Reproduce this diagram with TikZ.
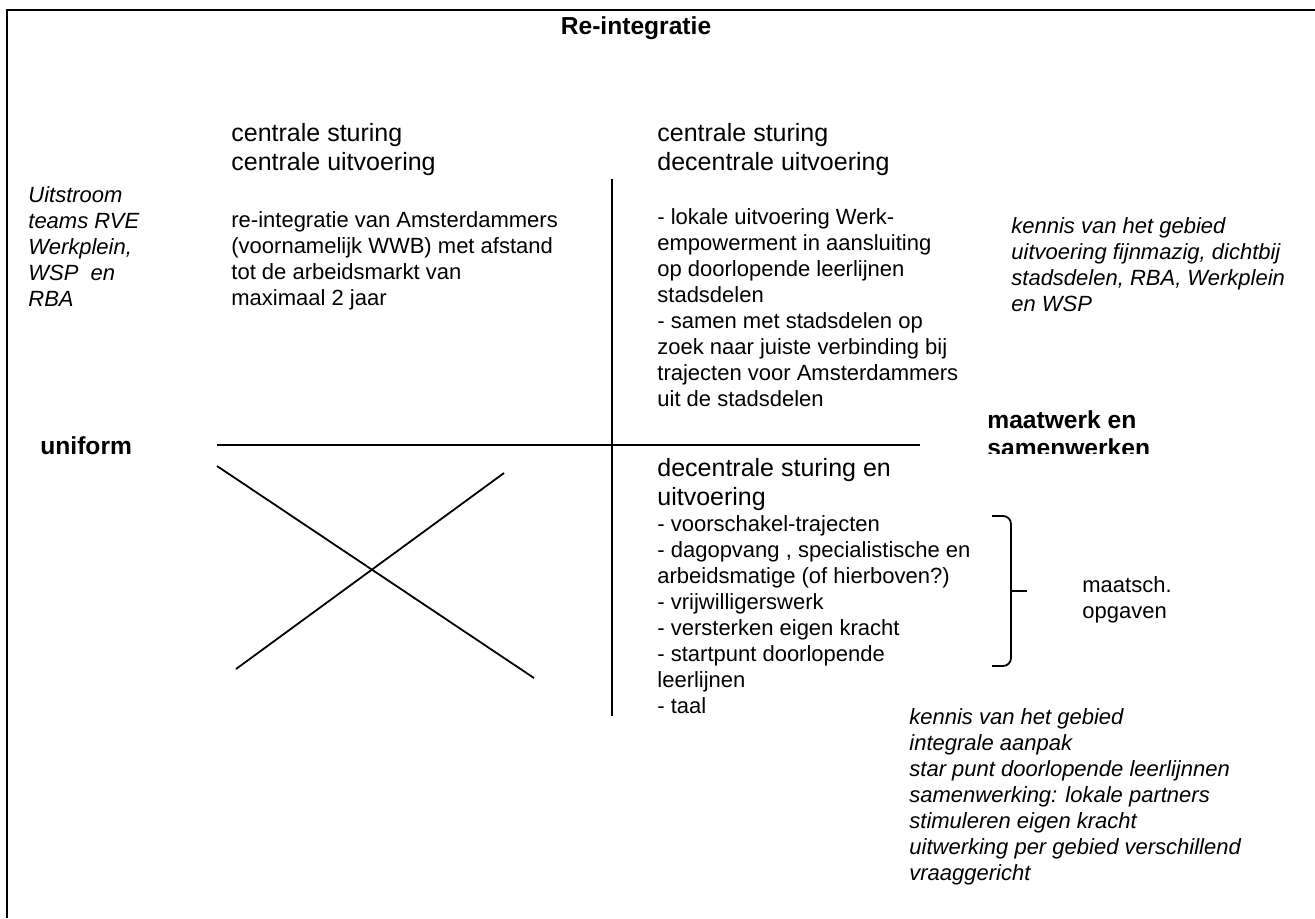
\documentclass[tikz,border=0pt]{standalone}
\usepackage{fontspec}
\setmainfont{Liberation Sans}
\usetikzlibrary{positioning}

\begin{document}
\begin{tikzpicture}[x=0.5pt, y=-0.5pt,
  txt/.style={anchor=north west, inner sep=0pt, align=left, font=\fontsize{11}{13}\selectfont},
  head/.style={txt, font=\fontsize{12.5}{14.5}\selectfont},
  note/.style={txt, font=\fontsize{11}{13}\selectfont\itshape},
  lbl/.style={inner sep=0pt, font=\fontsize{12.3}{14}\selectfont\bfseries},
  rule/.style={line width=1.4pt},
  thinrule/.style={line width=0.9pt}
]
  \useasboundingbox (0,0) rectangle (1315,918);
  % frame
  \draw[thinrule] (1315,10) -- (7,10) -- (7,918);

  \node[lbl, anchor=base] (title) at (636,34) {Re-integratie};

  % column heads
  \node[head] (cc) at (231,123) {centrale sturing\\centrale uitvoering};
  \node[head] (cd) at (657,123) {centrale sturing\\decentrale uitvoering};
  \node[head] (dd) at (657,458) {decentrale sturing en\\uitvoering};

  % texts
  \node[note] (uit) at (28,186) {Uitstroom\\teams RVE\\Werkplein,\\WSP\ \ en\\RBA};
  \node[txt] (ccbody) at (231,211) {re-integratie van Amsterdammers\\(voornamelijk WWB) met afstand\\tot de arbeidsmarkt van\\maximaal 2 jaar};
  \node[txt] (cdbody) at (657,208) {- lokale uitvoering Werk-\\empowerment in aansluiting\\op doorlopende leerlijnen\\stadsdelen\\- samen met stadsdelen op\\zoek naar juiste verbinding bij\\trajecten voor Amsterdammers\\uit de stadsdelen};
  \node[note] (cdnote) at (1011,217) {kennis van het gebied\\uitvoering fijnmazig, dichtbij\\stadsdelen, RBA, Werkplein\\en WSP};
  \node[txt] (ddbody) at (657,515) {- voorschakel-trajecten\\- dagopvang , specialistische en\\arbeidsmatige (of hierboven?)\\- vrijwilligerswerk\\- versterken eigen kracht\\- startpunt doorlopende\\leerlijnen\\- taal};
  \node[txt] (maatsch) at (1082,576) {maatsch.\\opgaven};
  \node[note] (ddnote) at (909,708) {kennis van het gebied\\integrale aanpak\\star punt doorlopende leerlijnnen\\samenwerking: lokale partners\\stimuleren eigen kracht\\uitwerking per gebied verschillend\\vraaggericht};

  % axis labels
  \node[lbl, anchor=west] (uniform) at (40,446) {uniform};
  \begin{scope}
    \clip (980,395) rectangle (1250,453);
    \node[lbl, anchor=north west, align=left] (maat) at (987,410) {maatwerk en\\samenwerken};
  \end{scope}

  % axes
  \draw[rule] (217,445) -- (920,445);
  \draw[rule] (612,179) -- (612,716);

  % cross
  \draw[thinrule] (217,466) -- (534,678);
  \draw[thinrule] (236,669) -- (504,473);

  % bracket
  \coordinate (bt) at (1011,591);
  \draw[thinrule, rounded corners=4pt] (992,516) -- (1011,516) -- (1011,666) -- (992,666);
  \draw[thinrule] (bt) -- ++(16,0);
\end{tikzpicture}
\end{document}
